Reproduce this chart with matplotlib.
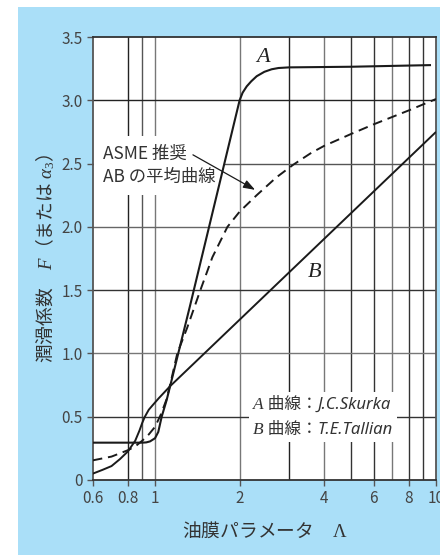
import matplotlib
matplotlib.use("Agg")
import matplotlib.pyplot as plt
from matplotlib.patches import Rectangle
from matplotlib.ticker import NullLocator
from matplotlib.offsetbox import TextArea, HPacker, VPacker, AnnotationBbox

plt.rcParams['font.family'] = ['Noto Sans CJK JP', 'DejaVu Sans']
plt.rcParams['mathtext.fontset'] = 'custom'
plt.rcParams['mathtext.rm'] = 'Liberation Serif'
plt.rcParams['mathtext.it'] = 'Liberation Serif:italic'

# Curve A (J.C. Skurka)
lam_a = [0.6, 0.90, 0.93, 0.96, 1.0, 1.027, 1.056, 1.10, 1.146, 1.33, 2.0,
         2.05, 2.12, 2.2, 2.3, 2.45, 2.6, 2.75, 3.0, 5.0, 9.6]
f_a = [0.295, 0.295, 0.297, 0.305, 0.33, 0.38, 0.50, 0.632, 0.79, 1.37, 3.0,
       3.06, 3.11, 3.15, 3.19, 3.225, 3.245, 3.255, 3.26, 3.265, 3.278]

# Curve B (T.E. Tallian)
lam_b = [0.6, 0.65, 0.7, 0.75, 0.8, 0.85, 0.88, 0.9, 0.92, 0.95, 0.98, 1.03, 1.13, 10.0]
f_b = [0.05, 0.08, 0.11, 0.165, 0.225, 0.31, 0.39, 0.45, 0.50, 0.555, 0.59, 0.645, 0.74, 2.75]

# ASME recommended average of A and B
lam_m = [0.6, 0.7, 0.8, 0.85, 0.9, 0.95, 1.0, 1.05, 1.1, 1.15, 1.2, 1.3, 1.45,
         1.6, 1.81, 2.0, 2.3, 2.7, 3.1, 3.3, 3.6, 4.0, 4.5, 5.0, 6.0, 8.0, 10.0]
f_m = [0.155, 0.185, 0.235, 0.265, 0.31, 0.36, 0.42, 0.52, 0.64, 0.82, 1.0,
       1.2, 1.5, 1.76, 2.0, 2.12, 2.25, 2.39, 2.49, 2.53, 2.585, 2.64, 2.69,
       2.735, 2.81, 2.92, 3.01]

x_ticks = [0.6, 0.8, 1, 2, 4, 6, 8, 10]
x_tick_labels = ['0.6', '0.8', '1', '2', '4', '6', '8', '10']
y_ticks = [0, 0.5, 1.0, 1.5, 2.0, 2.5, 3.0, 3.5]
y_tick_labels = ['0', '0.5', '1.0', '1.5', '2.0', '2.5', '3.0', '3.5']

x_grid = [0.8, 0.9, 1, 2, 3, 4, 5, 6, 7, 8, 9]
x_grid_colors = ['#222222', '#555555', '#777777', '#777777', '#222222', '#777777',
                 '#333333', '#333333', '#777777', '#333333', '#333333']
y_grid = [0.5, 1.0, 1.5, 2.0, 2.5, 3.0]
y_grid_colors = ['#333333', '#777777', '#333333', '#666666', '#555555', '#222222']

fig = plt.figure(figsize=(4.4, 5.55), dpi=100)
fig.patch.set_facecolor('white')
fig.add_artist(Rectangle((18 / 440, 0), 1 - 18 / 440, 1 - 7 / 555,
                         transform=fig.transFigure, facecolor='#aadff8',
                         edgecolor='none', zorder=-10))

ax = fig.add_axes([92.7 / 440, 1 - 480 / 555, (436 - 92.7) / 440, (480 - 37) / 555])
ax.set_facecolor('white')
ax.set_xscale('log')
ax.set_xlim(0.6, 10)
ax.set_ylim(0, 3.5)

for xv, c in zip(x_grid, x_grid_colors):
    ax.axvline(xv, color=c, lw=1.0, zorder=0.5)
for yv, c in zip(y_grid, y_grid_colors):
    ax.axhline(yv, color=c, lw=1.0, zorder=0.5)

ax.set_xticks(x_ticks)
ax.set_xticklabels(x_tick_labels)
ax.xaxis.set_minor_locator(NullLocator())
ax.set_yticks(y_ticks)
ax.set_yticklabels(y_tick_labels)
ax.tick_params(axis='both', direction='out', length=4, width=1.0, color='#555555',
               labelcolor='#444444', labelsize=11, pad=3)

for side in ['left', 'bottom', 'top', 'right']:
    ax.spines[side].set_linewidth(1.3)
ax.spines['left'].set_color('#555555')
ax.spines['right'].set_color('#555555')
ax.spines['top'].set_color('#333333')
ax.spines['bottom'].set_color('#333333')

ink = '#1a1a1a'
ax.plot(lam_a, f_a, color=ink, lw=1.5, zorder=3, solid_capstyle='butt')
ax.plot(lam_b, f_b, color=ink, lw=1.4, zorder=3, solid_capstyle='butt')
ax.plot(lam_m, f_m, color=ink, lw=1.4, ls=(0, (5, 3)), zorder=3)

ax.text(0.496, 0.959, '$A$', transform=ax.transAxes, fontsize=16,
        ha='center', va='center', color='#222222', zorder=4)
ax.text(0.645, 0.474, '$B$', transform=ax.transAxes, fontsize=16,
        ha='center', va='center', color='#222222', zorder=4)

ax.text(0.030, 0.71, 'ASME 推奨\nAB の平均曲線', transform=ax.transAxes,
        fontsize=12.5, ha='left', va='center', color='#333333', linespacing=1.35,
        zorder=2, bbox=dict(boxstyle='square,pad=0.5', facecolor='white',
                            edgecolor='none'))
ax.annotate('', xy=(0.473, 0.655), xytext=(0.292, 0.734),
            xycoords='axes fraction', textcoords='axes fraction',
            arrowprops=dict(arrowstyle='-|>,head_length=0.7,head_width=0.25',
                            color=ink, lw=0.9, shrinkA=0, shrinkB=0),
            zorder=4)


def credit_row(letter, name):
    letter_box = TextArea(letter, textprops=dict(family='Liberation Serif', style='italic',
                                                 fontsize=12.5, color='#333333'))
    mid_box = TextArea(' 曲線：', textprops=dict(family=['Noto Sans CJK JP'],
                                                 fontsize=12, color='#333333'))
    name_box = TextArea(name, textprops=dict(family='Noto Sans', style='italic',
                                             fontsize=12, color='#333333'))
    return HPacker(children=[letter_box, mid_box, name_box], align='baseline', pad=0, sep=0)


credits = VPacker(children=[credit_row('A', 'J.C.Skurka'), credit_row('B', 'T.E.Tallian')],
                  align='left', pad=0, sep=6)
ab = AnnotationBbox(credits, (0.467, 0.142), xycoords='axes fraction',
                    box_alignment=(0, 0.5), frameon=True, pad=0.4,
                    bboxprops=dict(boxstyle='square', facecolor='white', edgecolor='none'))
ab.set_zorder(2)
ax.add_artist(ab)

ax.set_ylabel('潤滑係数　$F$（または $\\alpha_3$）', fontsize=13.5, color='#333333',
              labelpad=3)
ax.set_xlabel('油膜パラメータ　$\\Lambda$', fontsize=13.5, color='#333333',
              labelpad=10)

fig.savefig('out.png', dpi=100)
